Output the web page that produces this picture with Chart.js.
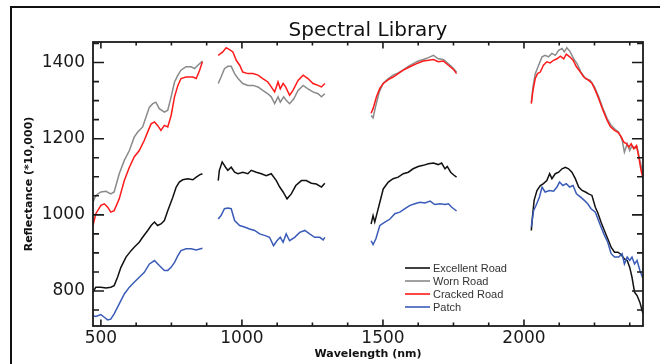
<!DOCTYPE html>
<html><head><meta charset="utf-8">
<script src="https://cdn.jsdelivr.net/npm/chart.js@4"></script>
<style>html,body{margin:0;padding:0;background:#fff}canvas{display:block}</style>
</head><body>
<canvas id="c" width="660" height="364"></canvas>
<script>
const titleText = 'Spectral Library';
const xAxisTitle = 'Wavelength (nm)';
const yAxisTitle = 'Reflectance (*10,000)';
const seriesNames = ['Excellent Road', 'Worn Road', 'Cracked Road', 'Patch'];
const seriesColors = ['#111111', '#8a8a8a', '#ff1a1a', '#3a5cb8'];
const xMajorTicks = [500, 1000, 1500, 2000];
const xMinorTicks = [625, 750, 875, 1125, 1250, 1375, 1625, 1750, 1875, 2125, 2250, 2375];
const yMajorTicks = [800, 1000, 1200, 1400];
const yMinorTicks = [750, 850, 900, 950, 1050, 1100, 1150, 1250, 1300, 1350, 1450];

// Excellent Road (null = absorption-band gap)
const excellentWl = [472,482,500,518,535,547,559,571,589,607,618,636,648,666,678,690,701,713,725,737,755,767,778,790,808,826,838,850,860,
  888,
  916,920,930,942,950,962,974,986,1003,1021,1033,1051,1069,1086,1104,1122,1134,1146,1160,1175,1191,1211,1228,1246,1264,1282,1294,
  1380,
  1458,1465,1471,1480,1489,1501,1519,1536,1554,1572,1590,1607,1625,1643,1661,1679,1696,1708,1720,1728,1740,1752,1761,
  1890,
  2026,2030,2036,2046,2058,2069,2081,2091,2099,2111,2123,2135,2147,2158,2170,2182,2194,2206,2218,2229,2241,2253,2261,2273,2285,2297,2309,2321,2333,2344,2356,2366,2375,2383,2392,2401,2411,2422];
const excellentRefl = [797,810,810,808,810,814,836,862,889,906,915,928,941,959,972,981,972,976,985,1011,1046,1073,1086,1092,1095,1092,1099,1105,1108,
  null,
  1090,1117,1139,1125,1117,1125,1112,1108,1112,1108,1117,1112,1108,1103,1108,1090,1073,1060,1042,1055,1077,1090,1090,1083,1081,1073,1083,
  null,
  976,998,981,1007,1033,1068,1086,1095,1099,1108,1112,1121,1127,1130,1134,1136,1132,1136,1121,1127,1112,1104,1099,
  null,
  959,994,1038,1064,1077,1082,1090,1108,1095,1108,1112,1121,1125,1121,1112,1095,1073,1064,1060,1055,1051,1020,1007,981,959,937,915,902,902,896,884,880,862,836,797,788,770,740];

// Worn Road
const wornWl = [472,482,500,518,535,547,565,583,601,618,630,648,660,672,684,695,707,725,737,749,761,773,784,802,820,832,844,860,
  888,
  916,926,938,950,962,974,986,1003,1021,1039,1057,1074,1092,1104,1116,1128,1136,1148,1157,1169,1184,1199,1217,1234,1252,1270,1282,1294,
  1380,
  1458,1465,1475,1487,1501,1519,1536,1554,1572,1590,1607,1625,1643,1661,1679,1696,1714,1728,1744,1761,
  1890,
  2026,2032,2040,2052,2064,2075,2087,2099,2111,2123,2135,2143,2152,2164,2176,2188,2202,2218,2235,2250,2265,2280,2295,2309,2324,2336,2348,2356,2366,2375,2383,2392,2401,2411,2422];
const wornRefl = [1033,1051,1060,1062,1055,1060,1108,1143,1169,1204,1217,1231,1257,1283,1292,1296,1279,1270,1275,1310,1349,1367,1380,1389,1389,1384,1393,1404,
  null,
  1345,1362,1384,1390,1390,1371,1358,1345,1340,1340,1336,1327,1318,1310,1292,1310,1296,1310,1301,1292,1305,1327,1340,1331,1323,1318,1310,1318,
  null,
  1261,1255,1288,1323,1346,1358,1367,1373,1381,1390,1397,1404,1408,1413,1419,1410,1408,1399,1389,1375,
  null,
  1296,1336,1371,1393,1415,1419,1415,1424,1419,1432,1437,1428,1439,1428,1410,1397,1375,1358,1353,1336,1310,1279,1253,1235,1224,1217,1196,1165,1187,1169,1182,1174,1178,1143,1108];

// Cracked Road
const crackedWl = [472,482,500,512,524,535,547,565,583,601,618,636,654,666,678,690,701,713,725,737,749,761,773,784,802,826,838,850,860,
  888,
  916,932,944,956,968,980,992,1003,1021,1039,1057,1074,1092,1104,1116,1128,1136,1146,1155,1169,1181,1199,1217,1234,1252,1270,1282,1294,
  1380,
  1458,1465,1477,1489,1501,1519,1536,1554,1572,1590,1607,1625,1643,1661,1679,1696,1714,1732,1750,1761,
  1890,
  2026,2032,2040,2048,2058,2069,2081,2093,2105,2117,2129,2141,2150,2162,2174,2186,2200,2212,2226,2241,2253,2265,2280,2295,2306,2321,2333,2344,2354,2363,2372,2380,2389,2399,2407,2415,2422];
const crackedRefl = [972,1003,1025,1029,1020,1007,1011,1042,1090,1125,1152,1169,1196,1218,1239,1244,1235,1222,1235,1231,1261,1310,1340,1358,1362,1362,1358,1380,1402,
  null,
  1419,1428,1439,1434,1428,1406,1393,1375,1371,1371,1367,1358,1349,1336,1323,1349,1331,1345,1336,1314,1327,1353,1367,1358,1345,1340,1336,1345,
  null,
  1267,1279,1310,1332,1345,1355,1362,1371,1380,1387,1393,1399,1404,1406,1408,1402,1404,1393,1382,1371,
  null,
  1292,1327,1358,1371,1375,1393,1402,1399,1406,1410,1417,1410,1422,1415,1406,1389,1375,1362,1355,1346,1327,1305,1275,1248,1232,1222,1217,1206,1191,1187,1178,1187,1174,1182,1152,1117,1095];

// Patch
const patchWl = [472,482,500,512,524,535,547,565,583,601,618,636,654,672,690,707,725,737,749,761,773,784,802,820,838,860,
  888,
  916,926,938,950,962,974,992,1009,1027,1045,1063,1080,1098,1112,1124,1136,1146,1157,1169,1187,1205,1223,1240,1258,1276,1288,1294,
  1380,
  1458,1465,1475,1489,1507,1525,1542,1560,1578,1596,1613,1631,1649,1667,1684,1702,1720,1732,1744,1761,
  1890,
  2026,2034,2043,2055,2064,2075,2091,2105,2117,2126,2138,2150,2162,2174,2186,2200,2214,2226,2238,2253,2269,2283,2297,2309,2321,2336,2348,2356,2366,2375,2383,2392,2401,2411,2422];
const patchRefl = [735,733,738,731,724,726,740,766,792,810,823,836,849,871,880,867,854,854,862,875,893,906,911,911,908,912,
  null,
  989,998,1016,1018,1016,985,972,968,963,959,950,946,941,919,932,941,928,950,932,941,954,959,950,941,941,934,941,
  null,
  932,922,937,972,981,989,1003,1007,1016,1025,1029,1033,1031,1036,1027,1029,1027,1029,1020,1010,
  null,
  968,1011,1025,1047,1073,1060,1064,1062,1073,1086,1077,1082,1073,1077,1055,1047,1038,1029,1016,1007,976,950,928,898,889,889,898,871,889,880,889,871,880,854,832];

const toPoints = (wl, r) => wl.map((x, i) => ({ x: x, y: r[i] }));
const seriesData = [
  toPoints(excellentWl, excellentRefl),
  toPoints(wornWl, wornRefl),
  toPoints(crackedWl, crackedRefl),
  toPoints(patchWl, patchRefl)
];
const drawOrder = [3, 4, 2, 1];

const decorPlugin = {
  id: 'decor',
  afterDraw(chart) {
    const ctx = chart.ctx;
    const a = chart.chartArea;
    const xs = chart.scales.x, ys = chart.scales.y;
    ctx.save();
    // outer frame (left + top)
    ctx.strokeStyle = '#111';
    ctx.lineWidth = 2;
    ctx.beginPath();
    ctx.moveTo(11, 364); ctx.lineTo(11, 7); ctx.lineTo(660, 7);
    ctx.stroke();
    // plot box
    ctx.lineWidth = 1.8;
    ctx.strokeStyle = '#1a1a1a';
    ctx.strokeRect(a.left, a.top, a.right - a.left, a.bottom - a.top);
    // ticks (inward, on all four sides)
    ctx.lineWidth = 1.6;
    ctx.strokeStyle = '#1a1a1a';
    ctx.beginPath();
    const xt = (v, len) => {
      const p = xs.getPixelForValue(v);
      ctx.moveTo(p, a.bottom); ctx.lineTo(p, a.bottom - len);
      ctx.moveTo(p, a.top); ctx.lineTo(p, a.top + len);
    };
    const yt = (v, len) => {
      const p = ys.getPixelForValue(v);
      ctx.moveTo(a.left, p); ctx.lineTo(a.left + len, p);
      ctx.moveTo(a.right, p); ctx.lineTo(a.right - len, p);
    };
    xMajorTicks.forEach(v => xt(v, 6.5));
    xMinorTicks.forEach(v => xt(v, 3.5));
    yMajorTicks.forEach(v => yt(v, 11));
    yMinorTicks.forEach(v => yt(v, 6));
    ctx.stroke();
    // title
    ctx.fillStyle = '#111';
    ctx.textAlign = 'center';
    ctx.textBaseline = 'alphabetic';
    ctx.font = '20px "DejaVu Sans"';
    ctx.fillText(titleText, (a.left + a.right) / 2, 36);
    // axis titles
    ctx.font = 'bold 11px "DejaVu Sans"';
    ctx.textBaseline = 'middle';
    ctx.fillText(xAxisTitle, (a.left + a.right) / 2, 354);
    ctx.save();
    ctx.translate(29, (a.top + a.bottom) / 2);
    ctx.rotate(-Math.PI / 2);
    ctx.fillText(yAxisTitle, 0, 0);
    ctx.restore();
    // legend
    ctx.font = '11px "Liberation Sans"';
    ctx.textAlign = 'left';
    chart.data.datasets.forEach((ds, i) => {
      const y = 268 + i * 13;
      ctx.strokeStyle = ds.borderColor;
      ctx.lineWidth = 1.6;
      ctx.beginPath(); ctx.moveTo(405, y); ctx.lineTo(430, y); ctx.stroke();
      ctx.fillStyle = '#333';
      ctx.fillText(ds.label, 433, y + 0.5);
    });
    ctx.restore();
  }
};

new Chart(document.getElementById('c'), {
  type: 'line',
  data: {
    datasets: seriesNames.map((name, i) => ({
      label: name,
      data: seriesData[i],
      borderColor: seriesColors[i],
      backgroundColor: seriesColors[i],
      borderWidth: 1.5,
      pointRadius: 0,
      tension: 0,
      spanGaps: false,
      fill: false,
      order: drawOrder[i]
    }))
  },
  options: {
    responsive: false,
    animation: false,
    devicePixelRatio: 1,
    layout: { padding: { top: 42, right: 17, left: 0, bottom: 0 } },
    plugins: { legend: { display: false }, tooltip: { enabled: false }, title: { display: false } },
    scales: {
      x: {
        type: 'linear', min: 472, max: 2422,
        grid: { display: false, drawTicks: false, tickLength: 0 }, border: { display: false },
        ticks: { font: { family: 'DejaVu Sans', size: 17 }, color: '#1a1a1a', padding: 2, maxRotation: 0, autoSkip: false,
                 callback: v => String(v) },
        afterBuildTicks: s => { s.ticks = xMajorTicks.map(v => ({ value: v })); },
        afterFit: s => { s.height = 38; }
      },
      y: {
        type: 'linear', min: 708, max: 1454,
        grid: { display: false, drawTicks: false, tickLength: 0 }, border: { display: false },
        ticks: { font: { family: 'DejaVu Sans', size: 17 }, color: '#1a1a1a', padding: 8, autoSkip: false,
                 callback: v => String(v) },
        afterBuildTicks: s => { s.ticks = yMajorTicks.map(v => ({ value: v })); },
        afterFit: s => { s.width = 93; }
      }
    }
  },
  plugins: [decorPlugin]
});
</script>
</body></html>
